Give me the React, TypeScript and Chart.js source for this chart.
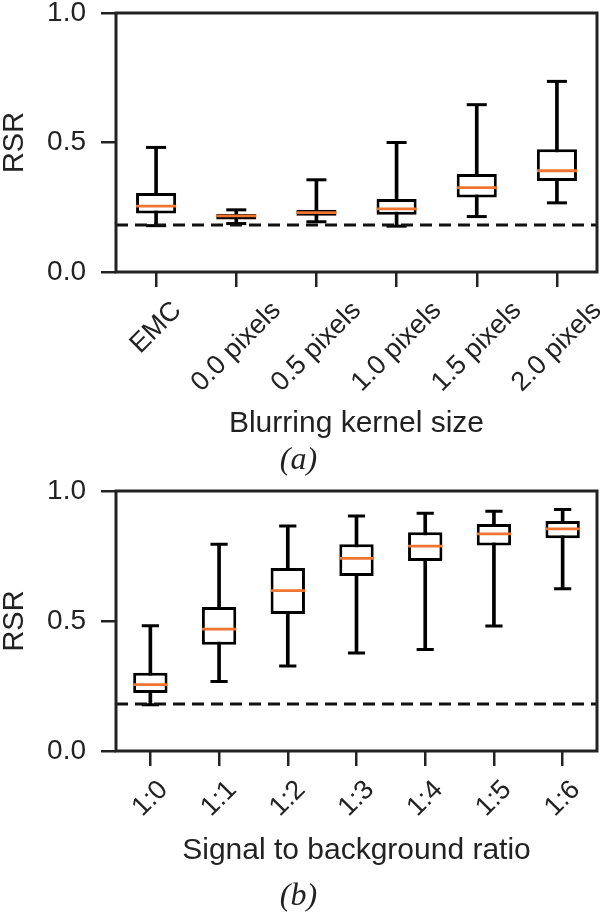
import React, { useEffect, useRef } from 'react';
import { Chart, registerables } from 'chart.js';

Chart.register(...registerables);

// ---------- data ----------
const blurCategories = ['EMC', '0.0 pixels', '0.5 pixels', '1.0 pixels', '1.5 pixels', '2.0 pixels'];
const blurMin = [0.179, 0.187, 0.194, 0.177, 0.214, 0.267];
const blurQ1 = [0.226, 0.203, 0.217, 0.221, 0.288, 0.351];
const blurMedian = [0.254, 0.217, 0.229, 0.244, 0.326, 0.391];
const blurQ3 = [0.305, 0.224, 0.240, 0.282, 0.378, 0.474];
const blurMax = [0.481, 0.240, 0.356, 0.500, 0.646, 0.736];

const ratioCategories = ['1:0', '1:1', '1:2', '1:3', '1:4', '1:5', '1:6'];
const ratioMin = [0.178, 0.267, 0.327, 0.377, 0.390, 0.481, 0.624];
const ratioQ1 = [0.223, 0.409, 0.527, 0.673, 0.731, 0.790, 0.818];
const ratioMedian = [0.255, 0.469, 0.617, 0.741, 0.788, 0.835, 0.854];
const ratioQ3 = [0.301, 0.554, 0.704, 0.795, 0.841, 0.873, 0.885];
const ratioMax = [0.482, 0.795, 0.865, 0.904, 0.914, 0.922, 0.929];

const baselineRSR = 0.181;
const yTickValues = [0.0, 0.5, 1.0];

// ---------- styling ----------
const SANS = '"Liberation Sans", Arial, Helvetica, sans-serif';
const SERIF = '"Liberation Serif", "Times New Roman", serif';
const TEXT = '#222222';
const ORANGE = '#f07530';
const LINE_W = 3;

const rotatedTickLabels = {
  id: 'rotatedTickLabels',
  afterDraw(chart: any, _args: any, opts: any) {
    const scale = chart.scales.x;
    const ctx = chart.ctx;
    const labels = chart.data.labels as string[];
    ctx.save();
    ctx.font = `${opts.size}px ${SANS}`;
    ctx.fillStyle = TEXT;
    ctx.textAlign = 'center';
    ctx.textBaseline = 'middle';
    const y0 = chart.chartArea.bottom + opts.offset;
    labels.forEach((lab, i) => {
      const x = scale.getPixelForTick(i);
      const w = ctx.measureText(lab).width;
      const half = ((w + opts.size) * Math.SQRT1_2) / 2;
      ctx.save();
      ctx.translate(x, y0 + half);
      ctx.rotate(-Math.PI / 4);
      ctx.fillText(lab, 0, 0);
      ctx.restore();
    });
    ctx.restore();
  },
};

const framePlugin = {
  id: 'frame',
  afterDraw(chart: any) {
    const { left, top, right, bottom } = chart.chartArea;
    const ctx = chart.ctx;
    ctx.save();
    ctx.strokeStyle = TEXT;
    ctx.lineWidth = LINE_W;
    ctx.strokeRect(left, top, right - left, bottom - top);
    ctx.restore();
  },
};

function makeConfig(p: any) {
  const n = p.labels.length;
  const boxHalf = (ctx: any) => {
    const s = ctx.chart.scales.x;
    return s && s.width ? (s.width / n) * 0.25 : 20;
  };
  const capHalf = (ctx: any) => {
    const s = ctx.chart.scales.x;
    return s && s.width ? (s.width / n) * 0.125 : 10;
  };
  return {
    type: 'bar',
    data: {
      labels: p.labels,
      datasets: [
        {
          type: 'line',
          label: 'baseline',
          xAxisID: 'xl',
          yAxisID: 'y',
          data: [
            { x: 0, y: baselineRSR },
            { x: 1, y: baselineRSR },
          ],
          borderColor: '#111111',
          borderWidth: LINE_W,
          borderDash: [12, 7],
          pointRadius: 0,
          order: 0,
        },
        {
          type: 'line',
          label: 'median',
          data: p.median,
          showLine: false,
          pointStyle: 'line',
          pointRadius: boxHalf,
          pointBorderColor: ORANGE,
          pointBorderWidth: 2.8,
          order: 1,
        },
        {
          type: 'line',
          label: 'max',
          data: p.max,
          showLine: false,
          pointStyle: 'line',
          pointRadius: capHalf,
          pointBorderColor: '#000000',
          pointBorderWidth: LINE_W,
          order: 2,
        },
        {
          type: 'line',
          label: 'min',
          data: p.min,
          showLine: false,
          pointStyle: 'line',
          pointRadius: capHalf,
          pointBorderColor: '#000000',
          pointBorderWidth: LINE_W,
          order: 2,
        },
        {
          type: 'bar',
          label: 'box',
          data: p.q1.map((q: number, i: number) => [q, p.q3[i]]),
          backgroundColor: '#ffffff',
          borderColor: '#000000',
          borderWidth: LINE_W,
          borderSkipped: false,
          grouped: false,
          barPercentage: 0.5,
          categoryPercentage: 1.0,
          order: 3,
        },
        {
          type: 'bar',
          label: 'whisker',
          data: p.min.map((m: number, i: number) => [m, p.max[i]]),
          backgroundColor: '#000000',
          borderWidth: 0,
          barThickness: LINE_W,
          grouped: false,
          order: 4,
        },
      ],
    },
    options: {
      animation: false,
      responsive: false,
      maintainAspectRatio: false,
      events: [],
      layout: { autoPadding: false, padding: { top: p.padTop, right: 3, left: 0, bottom: 0 } },
      scales: {
        x: {
          type: 'category',
          offset: true,
          grid: {
            offset: false,
            drawOnChartArea: false,
            drawTicks: true,
            tickLength: 15,
            color: TEXT,
            lineWidth: 2.5,
          },
          border: { display: false },
          ticks: { display: false },
          title: {
            display: true,
            text: p.xTitle,
            color: TEXT,
            font: { family: SANS, size: 30, lineHeight: 1.2 },
            padding: { top: 0, bottom: p.xTitlePad },
          },
          afterFit: (s: any) => {
            s.height = p.xHeight;
            s.paddingLeft = 0;
            s.paddingRight = 0;
          },
        },
        xl: {
          type: 'linear',
          display: false,
          offset: false,
          min: 0,
          max: 1,
        },
        y: {
          type: 'linear',
          min: 0,
          max: 1,
          afterBuildTicks: (s: any) => {
            s.ticks = yTickValues.map((v) => ({ value: v }));
          },
          ticks: {
            callback: (v: any) => Number(v).toFixed(1),
            color: TEXT,
            font: { family: SANS, size: 28 },
            padding: 15,
          },
          grid: {
            drawOnChartArea: false,
            drawTicks: true,
            tickLength: 15,
            color: TEXT,
            lineWidth: 2.5,
          },
          border: { display: false },
          title: {
            display: true,
            text: 'RSR',
            color: TEXT,
            font: { family: SANS, size: 29, lineHeight: 1.0 },
            padding: { top: 0, bottom: 0 },
          },
          afterFit: (s: any) => {
            s.width = 116;
            s.paddingTop = 0;
            s.paddingBottom = 0;
          },
        },
      },
      plugins: {
        legend: { display: false },
        tooltip: { enabled: false },
        title: {
          display: true,
          position: 'bottom',
          text: p.panel,
          color: TEXT,
          font: { family: SERIF, size: 32, style: 'italic', weight: 'normal', lineHeight: 1.0 },
          padding: { top: 0, bottom: p.panelPad },
        },
        rotatedTickLabels: { size: 27, offset: 25 },
      },
    },
    plugins: [rotatedTickLabels, framePlugin],
  };
}

function BoxChart(props: { params: any; top: number; height: number }) {
  const ref = useRef<HTMLCanvasElement | null>(null);
  useEffect(() => {
    if (!ref.current) return;
    const chart = new Chart(ref.current, makeConfig(props.params) as any);
    return () => chart.destroy();
  }, []);
  return (
    <canvas
      ref={ref}
      width={600}
      height={props.height}
      style={{ position: 'absolute', left: 0, top: props.top, width: 600, height: props.height, display: 'block' }}
    />
  );
}

const panelA = {
  labels: blurCategories,
  min: blurMin,
  q1: blurQ1,
  median: blurMedian,
  q3: blurQ3,
  max: blurMax,
  xTitle: 'Blurring kernel size',
  panel: '(a)',
  padTop: 13,
  xHeight: 173,
  xTitlePad: 3,
  panelPad: 8,
};

const panelB = {
  labels: ratioCategories,
  min: ratioMin,
  q1: ratioQ1,
  median: ratioMedian,
  q3: ratioQ3,
  max: ratioMax,
  xTitle: 'Signal to background ratio',
  panel: '(b)',
  padTop: 26,
  xHeight: 130,
  xTitlePad: 12,
  panelPad: 0,
};

export default function App() {
  useEffect(() => {
    document.body.style.margin = '0';
    document.body.style.background = '#ffffff';
  }, []);
  return (
    <div style={{ position: 'relative', width: 600, height: 913, overflow: 'hidden', background: '#ffffff' }}>
      <style>{'body{margin:0;background:#fff;}'}</style>
      <BoxChart params={panelA} top={0} height={485} />
      <BoxChart params={panelB} top={465} height={448} />
    </div>
  );
}
